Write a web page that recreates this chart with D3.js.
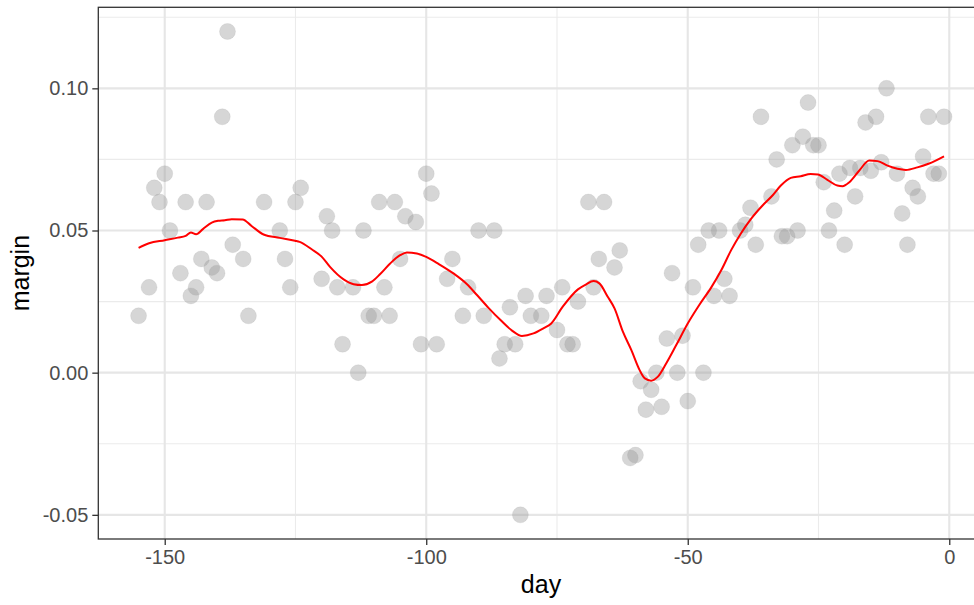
<!DOCTYPE html>
<html>
<head>
<meta charset="utf-8">
<script src="https://cdn.jsdelivr.net/npm/d3@7"></script>
<style>
  body { margin: 0; background: #fff; }
  svg { display: block; font-family: "Liberation Sans", Arial, sans-serif; }
</style>
</head>
<body>
<svg id="chart"></svg>
<script>
// poll margins by day
const days = [
  -155, -153, -152, -151, -150, -149, -147, -146, -145, -144,
  -143, -142, -141, -140, -139, -138, -137, -135, -134, -131,
  -128, -127, -126, -125, -124, -120, -119, -118, -117, -116,
  -114, -113, -112, -111, -110, -109, -108, -107, -106, -105,
  -104, -102, -101, -100, -99, -98, -96, -95, -93, -92,
  -90, -89, -87, -86, -85, -84, -83, -82, -81, -80,
  -78, -77, -75, -74, -73, -72, -71, -69, -68, -67,
  -66, -64, -63, -61, -60, -59, -58, -57, -56, -55,
  -54, -53, -52, -51, -50, -49, -48, -47, -46, -45,
  -44, -43, -42, -40, -39, -38, -37, -36, -34, -33,
  -32, -31, -30, -29, -28, -27, -26, -25, -24, -23,
  -22, -21, -20, -19, -18, -17, -16, -15, -14, -13,
  -12, -10, -9, -8, -7, -6, -5, -4, -3, -2,
  -1
];
const margins = [
  0.020, 0.030, 0.065, 0.060, 0.070, 0.050, 0.035, 0.060, 0.027, 0.030,
  0.040, 0.060, 0.037, 0.035, 0.090, 0.120, 0.045, 0.040, 0.020, 0.060,
  0.050, 0.040, 0.030, 0.060, 0.065, 0.033, 0.055, 0.050, 0.030, 0.010,
  0.030, 0.000, 0.050, 0.020, 0.020, 0.060, 0.030, 0.020, 0.060, 0.040,
  0.055, 0.053, 0.010, 0.070, 0.063, 0.010, 0.033, 0.040, 0.020, 0.030,
  0.050, 0.020, 0.050, 0.005, 0.010, 0.023, 0.010, -0.050, 0.027, 0.020,
  0.020, 0.027, 0.015, 0.030, 0.010, 0.010, 0.025, 0.060, 0.030, 0.040,
  0.060, 0.037, 0.043, -0.030, -0.029, -0.003, -0.013, -0.006, 0.000, -0.012,
  0.012, 0.035, 0.000, 0.013, -0.010, 0.030, 0.045, 0.000, 0.050, 0.027,
  0.050, 0.033, 0.027, 0.050, 0.052, 0.058, 0.045, 0.090, 0.062, 0.075,
  0.048, 0.048, 0.080, 0.050, 0.083, 0.095, 0.080, 0.080, 0.067, 0.050,
  0.057, 0.070, 0.045, 0.072, 0.062, 0.072, 0.088, 0.071, 0.090, 0.074,
  0.100, 0.070, 0.056, 0.045, 0.065, 0.062, 0.076, 0.090, 0.070, 0.070,
  0.090
];

// smoothed trend line
const smoothDays = [
  -155, -153, -150, -147.5, -146, -145, -144, -142.7, -141, -139.8,
  -138.5, -137.2, -135.1, -133.4, -131.1, -128, -125.1, -124.2, -121.9, -120,
  -118.4, -115.8, -113.9, -112.3, -110.4, -108.8, -106.9, -105, -103.7, -101.8,
  -100, -97.6, -94.8, -92.2, -90.3, -88.1, -85.8, -83.6, -81.7, -79.5,
  -77.6, -76.1, -73.9, -71, -69.5, -68, -66.9, -65.3, -64, -62.4,
  -60.8, -59.2, -58.2, -57, -55.7, -54.1, -52.2, -50, -47.8, -45.5,
  -43.6, -41.7, -39.9, -37.9, -35.7, -33.8, -32.2, -30.3, -28.4, -26.5,
  -25.1, -23.3, -21.4, -20.4, -19.1, -17.2, -15.3, -13.7, -11.8, -9.9,
  -8.3, -6.1, -4.1, -2.6, -1
];
const smoothMargins = [
  0.0439, 0.0455, 0.0466, 0.0475, 0.0481, 0.0493, 0.0487, 0.0505, 0.0528, 0.0534,
  0.0536, 0.0540, 0.0539, 0.0516, 0.0486, 0.0474, 0.0464, 0.0460, 0.0434, 0.0408,
  0.0372, 0.0328, 0.0311, 0.0308, 0.0320, 0.0347, 0.0384, 0.0413, 0.0423, 0.0419,
  0.0407, 0.0382, 0.0349, 0.0311, 0.0273, 0.0228, 0.0185, 0.0148, 0.0129, 0.0138,
  0.0156, 0.0173, 0.0232, 0.0293, 0.0310, 0.0322, 0.0314, 0.0267, 0.0226, 0.0144,
  0.0080, 0.0009, -0.0020, -0.0028, -0.0014, 0.0033, 0.0097, 0.0173, 0.0238, 0.0300,
  0.0360, 0.0431, 0.0488, 0.0541, 0.0588, 0.0623, 0.0658, 0.0685, 0.0691, 0.0699,
  0.0697, 0.0678, 0.0658, 0.0656, 0.0670, 0.0711, 0.0746, 0.0744, 0.0728, 0.0717,
  0.0713, 0.0722, 0.0734, 0.0746, 0.0761
];

const xTicks = [-150, -100, -50, 0];
const xMinor = [-125, -75, -25];
const yTicks = [-0.05, 0, 0.05, 0.10];
const yMinor = [-0.025, 0.025, 0.075, 0.125];

// chart size and panel box (right edge runs past the picture)
const W = 974, H = 605;
const panel = { left: 98.3, right: 984.3, top: 7.3, bottom: 539 };

const svg = d3.select('#chart')
    .attr('width', W)
    .attr('height', H);

// ggplot-style 5% expansion of the data range
const xExt = d3.extent(days), yExt = d3.extent(margins);
const xPad = (xExt[1] - xExt[0]) * 0.05, yPad = (yExt[1] - yExt[0]) * 0.05;

const x = d3.scaleLinear()
    .domain([xExt[0] - xPad, xExt[1] + xPad])
    .range([panel.left, panel.right]);

const y = d3.scaleLinear()
    .domain([yExt[0] - yPad, yExt[1] + yPad])
    .range([panel.bottom, panel.top]);

// panel background + grid
const grid = svg.append('g');
grid.append('rect')
    .attr('x', panel.left).attr('y', panel.top)
    .attr('width', panel.right - panel.left)
    .attr('height', panel.bottom - panel.top)
    .attr('fill', '#fff');

grid.selectAll('.ymin').data(yMinor).enter().append('line')
    .attr('x1', panel.left).attr('x2', panel.right)
    .attr('y1', d => y(d)).attr('y2', d => y(d))
    .attr('stroke', '#ebebeb').attr('stroke-width', 1.1);
grid.selectAll('.xmin').data(xMinor).enter().append('line')
    .attr('y1', panel.top).attr('y2', panel.bottom)
    .attr('x1', d => x(d)).attr('x2', d => x(d))
    .attr('stroke', '#ebebeb').attr('stroke-width', 1.1);
grid.selectAll('.ymaj').data(yTicks).enter().append('line')
    .attr('x1', panel.left).attr('x2', panel.right)
    .attr('y1', d => y(d)).attr('y2', d => y(d))
    .attr('stroke', '#e6e6e6').attr('stroke-width', 2.1);
grid.selectAll('.xmaj').data(xTicks).enter().append('line')
    .attr('y1', panel.top).attr('y2', panel.bottom)
    .attr('x1', d => x(d)).attr('x2', d => x(d))
    .attr('stroke', '#e6e6e6').attr('stroke-width', 2.1);

// points
svg.append('g')
    .selectAll('circle')
    .data(days.map((d, i) => ({ day: d, margin: margins[i] })))
    .enter()
    .append('circle')
    .attr('cx', d => x(d.day))
    .attr('cy', d => y(d.margin))
    .attr('r', 8)
    .attr('fill', '#999999')
    .attr('fill-opacity', 0.4)
    .attr('stroke', '#999999')
    .attr('stroke-opacity', 0.15)
    .attr('stroke-width', 1);

// trend line
const line = d3.line()
    .x((d, i) => x(d))
    .y((d, i) => y(smoothMargins[i]))
    .curve(d3.curveMonotoneX);

svg.append('path')
    .attr('d', line(smoothDays))
    .attr('fill', 'none')
    .attr('stroke', '#ff0000')
    .attr('stroke-width', 2);

// panel border
svg.append('rect')
    .attr('x', panel.left).attr('y', panel.top)
    .attr('width', panel.right - panel.left)
    .attr('height', panel.bottom - panel.top)
    .attr('fill', 'none')
    .attr('stroke', '#333333')
    .attr('stroke-width', 1.3);

// axes
const xAxis = d3.axisBottom(x)
    .tickValues(xTicks)
    .tickFormat(d3.format('d'))
    .tickSize(6)
    .tickPadding(5);
const gx = svg.append('g')
    .attr('transform', `translate(0, ${panel.bottom})`)
    .call(xAxis);

const yAxis = d3.axisLeft(y)
    .tickValues(yTicks)
    .tickFormat(d3.format('.2f'))
    .tickSize(6)
    .tickPadding(4);
const gy = svg.append('g')
    .attr('transform', `translate(${panel.left}, 0)`)
    .call(yAxis);

[gx, gy].forEach(g => {
    g.select('.domain').remove();
    g.selectAll('.tick line').attr('stroke', '#333333').attr('stroke-width', 1.3);
    g.selectAll('.tick text')
        .attr('fill', '#4d4d4d')
        .style('font-size', '20px')
        .style('font-family', '"Liberation Sans", Arial, sans-serif');
});
// d3 uses a unicode minus; ggplot shows a hyphen
gx.selectAll('.tick text').text(d => String(d));
gy.selectAll('.tick text').text(d => d.toFixed(2));

// axis titles
svg.append('text')
    .attr('x', 541)
    .attr('y', 593)
    .attr('text-anchor', 'middle')
    .style('font-size', '25px')
    .attr('fill', '#000')
    .text('day');

svg.append('text')
    .attr('transform', `translate(29, ${(panel.top + panel.bottom) / 2}) rotate(-90)`)
    .attr('text-anchor', 'middle')
    .style('font-size', '25px')
    .attr('fill', '#000')
    .text('margin');
</script>
</body>
</html>
